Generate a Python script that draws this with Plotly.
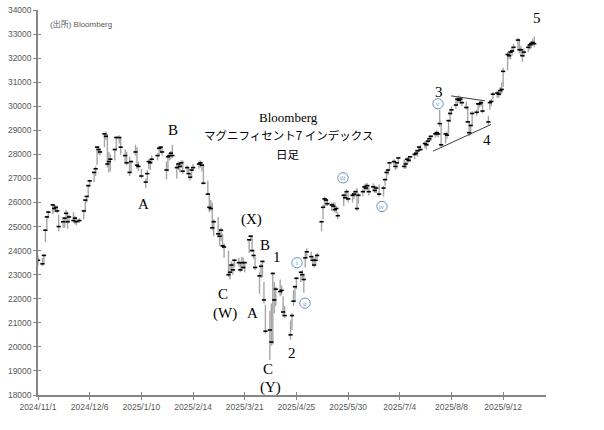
import plotly.graph_objects as go
import pandas as pd

# ---------------- data ----------------
holidays = ["2024-11-28", "2024-12-25", "2025-01-01", "2025-01-09", "2025-01-20",
            "2025-02-17", "2025-04-18", "2025-05-26", "2025-06-19", "2025-07-04",
            "2025-09-01"]
trade_dates = pd.bdate_range("2024-11-01", "2025-10-03", freq="C", holidays=holidays)

# (high, low, close) per trading day, month by month
nov24 = [(23800, 23400, 23600), (23700, 23350, 23450), (23850, 23450, 23800), (24900, 24350, 24850),
         (25450, 24900, 25400), (25650, 25350, 25600), (25950, 25500, 25900), (25900, 25600, 25750),
         (25900, 25600, 25800), (25850, 25550, 25650), (25500, 24800, 25000), (25300, 24950, 25200),
         (25400, 24950, 25350), (25700, 25150, 25550), (25600, 24900, 25200), (25500, 25150, 25400),
         (25600, 25150, 25250), (25450, 25100, 25350), (25400, 25050, 25200), (25350, 25150, 25250)]
dec24 = [(25700, 25300, 25650), (26150, 25600, 26100), (26300, 26000, 26250), (26750, 26250, 26700),
         (26950, 26650, 26900), (27300, 26850, 27250), (27500, 27100, 27400), (28350, 27550, 28300),
         (28350, 28000, 28200), (28250, 27950, 28100), (28900, 28300, 28850), (28950, 28600, 28750),
         (28850, 27450, 27600), (28100, 27250, 27700), (28000, 27300, 27800), (28250, 27750, 28200),
         (28750, 28200, 28700), (28800, 28450, 28700), (28700, 28000, 28300), (28200, 27650, 27950),
         (28100, 27550, 27650)]
jan25 = [(27900, 27100, 27250), (27750, 27250, 27700), (28400, 27950, 28100), (28300, 27400, 27550),
         (27700, 27300, 27500), (27400, 27000, 27100), (27000, 26600, 26850), (27350, 26900, 27200),
         (27800, 27400, 27700), (27750, 27350, 27650), (27950, 27650, 27800), (28050, 27750, 27950),
         (28300, 27950, 28250), (28350, 28050, 28300), (28350, 27950, 28100), (27700, 26950, 27350),
         (27950, 27300, 27900), (28050, 27750, 27950), (28150, 27800, 28050), (28400, 27850, 27950)]
feb25 = [(27600, 27000, 27450), (27700, 27350, 27600), (27650, 27250, 27500), (27750, 27450, 27650),
         (27750, 27200, 27300), (27550, 27250, 27450), (27450, 27100, 27200), (27200, 26900, 27050),
         (27450, 27000, 27350), (27600, 27300, 27450), (27700, 27400, 27600), (27750, 27450, 27650),
         (27650, 27300, 27550), (27600, 26750, 26800), (26900, 26300, 26350), (26350, 25600, 25800),
         (26100, 25650, 25750), (26000, 24850, 24950), (25300, 24600, 25200)]
mar25 = [(25400, 24550, 24700), (24900, 24200, 24600), (24950, 24400, 24850), (24700, 24100, 24200),
         (24300, 23700, 24150), (24000, 22900, 23000), (23400, 22800, 23100), (23550, 23100, 23400),
         (23500, 23000, 23200), (23650, 23300, 23600), (23700, 23350, 23500), (23500, 23100, 23200),
         (23750, 23150, 23500), (23700, 23250, 23300), (23550, 23100, 23500), (24450, 23900, 24450),
         (24650, 24400, 24600), (24600, 23950, 24000), (24050, 23650, 23800), (23750, 23200, 23300),
         (23100, 22200, 22950)]
apr25 = [(23450, 22850, 23350), (23600, 22900, 23550), (22700, 21800, 21950), (21750, 20550, 20650),
         (21500, 19450, 20700), (21800, 20050, 20200), (23100, 20100, 23050), (22700, 21400, 21950),
         (22500, 21700, 22400), (22800, 22100, 22300), (22550, 22150, 22350), (22100, 21300, 21450),
         (21700, 21200, 21300), (21100, 20300, 20500), (21400, 20700, 21300), (22350, 21700, 21900),
         (22550, 21850, 22500), (22900, 22400, 22850), (23150, 22700, 23100), (23200, 22850, 23000),
         (23000, 22250, 22800)]
may25 = [(23900, 23300, 23700), (24100, 23700, 23950), (23950, 23600, 23750), (23750, 23400, 23600),
         (23700, 23300, 23400), (23800, 23450, 23600), (23900, 23650, 23800), (25250, 24800, 25200),
         (25900, 25300, 25800), (26250, 25800, 26150), (26200, 25850, 26100), (26150, 25850, 25950),
         (26000, 25650, 25900), (26000, 25750, 25850), (26000, 25600, 25700), (25850, 25550, 25750),
         (25600, 25300, 25450), (26350, 25850, 26300), (26450, 26150, 26200), (26550, 26100, 26450),
         (26400, 26000, 26150)]
jun25 = [(26400, 26000, 26300), (26450, 26150, 26350), (26500, 26250, 26450), (26600, 25650, 25750),
         (26400, 25950, 26300), (26550, 26250, 26450), (26750, 26400, 26650), (26800, 26500, 26600),
         (26800, 26500, 26700), (26650, 26300, 26450), (26800, 26500, 26650), (26700, 26400, 26500),
         (26700, 26400, 26600), (26750, 26250, 26350), (26700, 26250, 26600), (27000, 26700, 26950),
         (27300, 26950, 27250), (27400, 27150, 27350), (27700, 27350, 27650), (27800, 27550, 27700)]
jul25 = [(27750, 27350, 27500), (27700, 27400, 27650), (27900, 27650, 27850), (27800, 27400, 27500),
         (27700, 27400, 27600), (27900, 27600, 27800), (27900, 27650, 27750), (27950, 27700, 27900),
         (28050, 27800, 28000), (28200, 27950, 28050), (28200, 27900, 28150), (28350, 28100, 28300),
         (28400, 28150, 28200), (28550, 28250, 28450), (28500, 28200, 28400), (28650, 28350, 28550),
         (28750, 28500, 28650), (28800, 28550, 28750), (28950, 28700, 28850), (29000, 28750, 28900),
         (28950, 28700, 28850), (29850, 29150, 29280)]
aug25 = [(29300, 28300, 28400), (28900, 28450, 28850), (28950, 28650, 28800), (29450, 28850, 29400),
         (29800, 29350, 29700), (30000, 29650, 29850), (30300, 29900, 30050), (30400, 30050, 30300),
         (30450, 30150, 30250), (30400, 30100, 30300), (30350, 30000, 30150), (30200, 29850, 29950),
         (30000, 29300, 29350), (29350, 28750, 28900), (29250, 28800, 29200), (29800, 29200, 29700),
         (29850, 29600, 29750), (30150, 29700, 30100), (30200, 29950, 30100), (30250, 30000, 30150),
         (30150, 29700, 29800)]
sep25 = [(29600, 29200, 29350), (30250, 29850, 30150), (30300, 30000, 30200), (30600, 30300, 30500),
         (30650, 30350, 30550), (30650, 30350, 30500), (30800, 30450, 30650), (31000, 30500, 30700),
         (31600, 30800, 31450), (32250, 31500, 32150), (32300, 31950, 32100), (32350, 31950, 32250),
         (32450, 32100, 32300), (32600, 32250, 32450), (32850, 32400, 32750), (32800, 32200, 32350),
         (32500, 32100, 32350), (32350, 31850, 32100), (32400, 32050, 32250), (32550, 32250, 32450),
         (32650, 32350, 32550)]
oct25 = [(32700, 32400, 32600), (32800, 32500, 32650), (32900, 32450, 32600)]

tick_dates = ["2024-11-01", "2024-12-06", "2025-01-10", "2025-02-14", "2025-03-21",
              "2025-04-25", "2025-05-30", "2025-07-04", "2025-08-08", "2025-09-12"]
tick_labels = ["2024/11/1", "2024/12/6", "2025/1/10", "2025/2/14", "2025/3/21",
               "2025/4/25", "2025/5/30", "2025/7/4", "2025/8/8", "2025/9/12"]

title_lines = ["Bloomberg", "マグニフィセント7 インデックス", "日足"]
source_text = "(出所) Bloomberg"
wave_labels = ["B", "A", "C", "(W)", "(X)", "B", "1", "A", "2", "C", "(Y)", "3", "4", "5"]
minor_labels = ["i", "ii", "iii", "iv", "v"]

# ---------------- build ----------------
rows = nov24 + dec24 + jan25 + feb25 + mar25 + apr25 + may25 + jun25 + jul25 + aug25 + sep25 + oct25
n = min(len(rows), len(trade_dates))
dates = trade_dates[:n]
hi = [r[0] for r in rows[:n]]
lo = [r[1] for r in rows[:n]]
cl = [r[2] for r in rows[:n]]

# plot area in pixels
L, R, T, B = 38, 546, 5, 395
W, H = 604, 430


def px(x, y):
    return (x - L) / (R - L), (B - y) / (B - T)


fig = go.Figure()
fig.add_trace(go.Scatter(
    x=dates, y=cl, mode="markers",
    marker=dict(symbol="line-ew", size=3, color="black", line=dict(width=1.6, color="black")),
    error_y=dict(type="data", symmetric=False,
                 array=[h - c for h, c in zip(hi, cl)],
                 arrayminus=[c - l for c, l in zip(cl, lo)],
                 color="#a6a6a6", thickness=1.4, width=0),
    hoverinfo="x+y", showlegend=False))
# dummy trace for overlay axes (inner half of the crossing ticks)
fig.add_trace(go.Scatter(x=[dates[0]], y=[None], xaxis="x2", yaxis="y2",
                         mode="markers", showlegend=False, hoverinfo="skip"))

xrange_ = ["2024-11-01", "2025-10-11"]
yrange_ = [18000, 34000]
axis_col = "#868686"
tickfont = dict(family="Liberation Sans, Arial, sans-serif", size=8.5, color="#595959")

fig.update_layout(
    width=W, height=H,
    margin=dict(l=L, r=W - R, t=T, b=H - B, pad=0),
    paper_bgcolor="white", plot_bgcolor="white",
    showlegend=False,
    xaxis=dict(type="date", range=xrange_, tickvals=tick_dates, ticktext=tick_labels,
               showgrid=False, zeroline=False, showline=True, linecolor=axis_col, linewidth=1.5,
               ticks="outside", ticklen=3, tickwidth=1.2, tickcolor=axis_col, tickfont=tickfont,
               ticklabeloverflow="allow"),
    yaxis=dict(range=yrange_, tickvals=list(range(18000, 34001, 1000)), tickformat="d",
               showgrid=False, zeroline=False, showline=True, linecolor=axis_col, linewidth=1.5,
               ticks="outside", ticklen=3, tickwidth=1.2, tickcolor=axis_col, tickfont=tickfont,
               ticklabeloverflow="allow"),
    xaxis2=dict(type="date", range=xrange_, tickvals=tick_dates, overlaying="x", anchor="y",
                side="bottom", showgrid=False, zeroline=False, showline=False,
                ticks="inside", ticklen=3, tickwidth=1.2, tickcolor=axis_col, showticklabels=False),
    yaxis2=dict(range=yrange_, tickvals=list(range(18000, 34001, 1000)), overlaying="y", anchor="x",
                side="left", showgrid=False, zeroline=False, showline=False,
                ticks="inside", ticklen=3, tickwidth=1.2, tickcolor=axis_col, showticklabels=False),
)

annotations = []
shapes = []

# source note
sx, sy = px(48, 19)
annotations.append(dict(x=sx, y=sy, xref="paper", yref="paper", text=source_text, showarrow=False,
                        xanchor="left", yanchor="middle",
                        font=dict(family="Liberation Sans, Noto Sans CJK JP", size=8, color="#595959")))

# title block
title_pos = [(288, 114), (288, 132), (288, 151)]
title_fonts = [dict(family="Liberation Serif, serif", size=13, color="black"),
               dict(family="Noto Sans CJK JP", size=11.5, color="black"),
               dict(family="Noto Sans CJK JP", size=11.5, color="black")]
for txt, (x, y), f in zip(title_lines, title_pos, title_fonts):
    ax, ay = px(x, y)
    annotations.append(dict(x=ax, y=ay, xref="paper", yref="paper", text=txt, showarrow=False,
                            xanchor="center", yanchor="middle", font=f))

# wave labels
wave_pos = [(173, 127), (143, 202), (223, 293), (225, 312), (251, 217), (265, 243), (277, 255),
            (252, 312), (292, 352), (268, 369), (270, 387), (439, 88), (487, 137), (537, 13)]
for txt, (x, y) in zip(wave_labels, wave_pos):
    ax, ay = px(x, y)
    annotations.append(dict(x=ax, y=ay, xref="paper", yref="paper", text=txt, showarrow=False,
                            xanchor="center", yanchor="middle",
                            font=dict(family="Liberation Serif, serif", size=15, color="black")))

# circled minor-wave labels
circ_col = "#6a93c0"
circ_pos = [(297, 261), (305, 302), (343, 175), (382, 204), (438, 100)]
rad = 5.2
for txt, (x, y) in zip(minor_labels, circ_pos):
    x0, y0 = px(x - rad, y + rad)
    x1, y1 = px(x + rad, y - rad)
    shapes.append(dict(type="circle", xref="paper", yref="paper", x0=x0, y0=y0, x1=x1, y1=y1,
                       line=dict(color=circ_col, width=1), fillcolor="white", layer="above"))
    ax, ay = px(x, y)
    annotations.append(dict(x=ax, y=ay, xref="paper", yref="paper", text=txt, showarrow=False,
                            xanchor="center", yanchor="middle",
                            font=dict(family="Liberation Serif, serif", size=6.5, color=circ_col)))

# triangle trend lines
for (xa, ya), (xb, yb) in [((451, 92), (485, 97)), ((433, 148), (491, 121))]:
    x0, y0 = px(xa, ya)
    x1, y1 = px(xb, yb)
    shapes.append(dict(type="line", xref="paper", yref="paper", x0=x0, y0=y0, x1=x1, y1=y1,
                       line=dict(color="#404040", width=1)))

fig.update_layout(annotations=annotations, shapes=shapes)
fig.write_html("out.html", config={"displayModeBar": False},
               post_script="document.body.style.margin='0';document.body.style.padding='0';")
